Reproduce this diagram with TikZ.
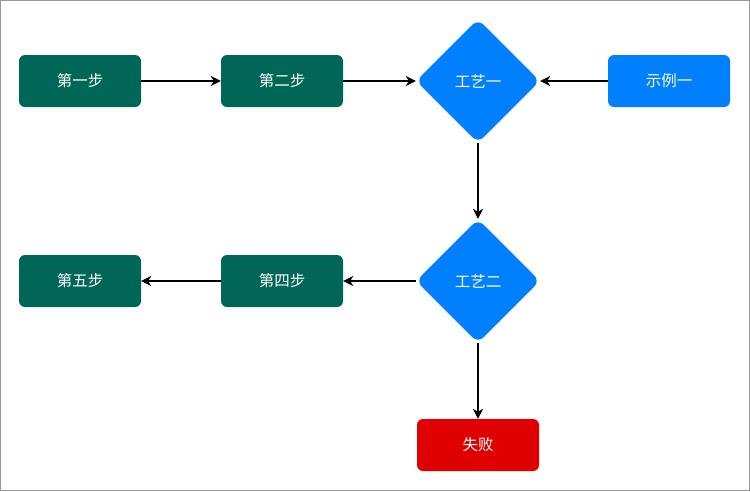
\documentclass[tikz,border=0pt]{standalone}
\usepackage{fontspec}
\newfontfamily\cjk{Noto Sans CJK SC}
\usetikzlibrary{shapes.geometric,arrows.meta}
\definecolor{stepgreen}{HTML}{006658}
\definecolor{procblue}{HTML}{0080FF}
\definecolor{failred}{HTML}{E00000}
\tikzset{
  box/.style={rectangle, rounded corners=6pt, minimum width=122pt, minimum height=52pt, inner sep=0pt, text=white, font=\cjk\fontsize{15.5}{18}\selectfont},
  greenbox/.style={box, fill=stepgreen},
  bluebox/.style={box, fill=procblue},
  redbox/.style={box, fill=failred},
  decision/.style={diamond, aspect=1, rounded corners=8pt, minimum width=124pt, minimum height=124pt, inner sep=0pt, fill=procblue, text=white, font=\cjk\fontsize{15.5}{18}\selectfont},
  conn/.style={-{Stealth[length=10pt,width=10pt,inset=3pt]}, line width=1.6pt, black}
}
\begin{document}
\begin{tikzpicture}[x=1pt,y=-1pt]
\useasboundingbox (0,0) rectangle (750,491);
\draw[gray!80, line width=1pt] (0.5,0.5) rectangle (749.5,490.5);
\node[greenbox] (s1) at (80,81) {第一步};
\node[greenbox] (s2) at (282,81) {第二步};
\node[decision] (d1) at (478,81) {工艺一};
\node[bluebox] (e1) at (669,81) {示例一};
\node[decision] (d2) at (478,281) {工艺二};
\node[greenbox] (s4) at (282,281) {第四步};
\node[greenbox] (s5) at (80,281) {第五步};
\node[redbox] (f) at (478,445) {失败};
\draw[conn] (s1) -- (s2);
\draw[conn] (s2) -- (d1);
\draw[conn] (e1) -- (d1);
\draw[conn] (d1) -- (d2);
\draw[conn] (d2) -- (s4);
\draw[conn] (s4) -- (s5);
\draw[conn] (d2) -- (f);
\end{tikzpicture}
\end{document}
